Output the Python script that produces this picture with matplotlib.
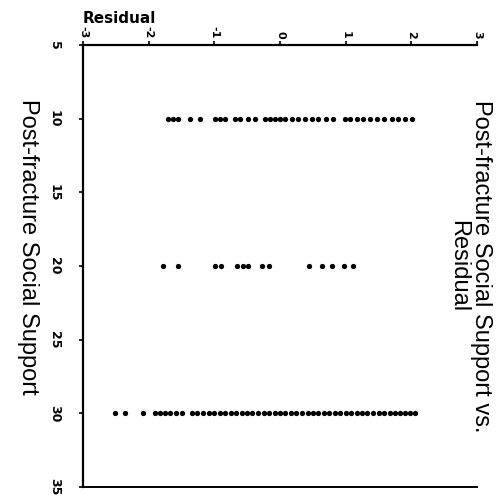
import matplotlib
matplotlib.use("Agg")
import matplotlib.pyplot as plt

# Data: residuals at each level of post-fracture social support
support_levels = [10, 20, 30]
resid_10 = [-1.71, -1.63, -1.55, -1.37, -1.22, -0.99, -0.91, -0.84, -0.69, -0.61,
            -0.49, -0.38, -0.23, -0.15, -0.08, 0.00, 0.08, 0.18, 0.27, 0.38,
            0.49, 0.58, 0.70, 0.81, 0.99, 1.07, 1.17, 1.26, 1.37, 1.48,
            1.58, 1.71, 1.80, 1.90, 2.01]
resid_20 = [-1.78, -1.55, -0.99, -0.90, -0.65, -0.57, -0.49, -0.27, -0.17,
            0.44, 0.64, 0.79, 0.97, 1.11]
resid_30 = [-2.51, -2.36, -2.09, -1.90, -1.83, -1.75, -1.68, -1.58, -1.49,
            -1.34, -1.26, -1.17, -1.08, -1.00, -0.92, -0.83, -0.75, -0.67,
            -0.58, -0.50, -0.42, -0.33, -0.25, -0.17, -0.08, 0.00, 0.08,
            0.17, 0.25, 0.33, 0.42, 0.50, 0.58, 0.67, 0.75, 0.83, 0.92,
            1.00, 1.08, 1.17, 1.25, 1.33, 1.42, 1.50, 1.58, 1.67, 1.75,
            1.83, 1.90, 1.98, 2.06]
residuals = [resid_10, resid_20, resid_30]

x_ticks = [-3, -2, -1, 0, 1, 2, 3]
y_ticks = [5, 10, 15, 20, 25, 30, 35]

fig = plt.figure(figsize=(5.01, 5.04), dpi=100)
ax = fig.add_axes([83 / 501, 1 - 487 / 504, (477 - 83) / 501, (487 - 45) / 504])

for level, vals in zip(support_levels, residuals):
    ax.plot(vals, [level] * len(vals), linestyle="none", marker="o",
            markersize=3.8, color="black", markeredgewidth=0)

ax.set_xlim(-3, 3)
ax.set_ylim(35, 5)
ax.xaxis.tick_top()
ax.set_xticks(x_ticks)
ax.set_yticks(y_ticks)

bold_font = ["DejaVu Sans"]
ax.set_xticklabels([str(v) for v in x_ticks], rotation=-90, fontsize=8,
                   fontweight="bold", family=bold_font, va="bottom", ha="center")
ax.set_yticklabels([str(v) for v in y_ticks], rotation=-90, fontsize=9,
                   fontweight="bold", family=bold_font, va="center", ha="right")
ax.tick_params(axis="x", length=3, width=1.2, pad=1.5)
ax.tick_params(axis="y", length=3, width=1.2, pad=13)

ax.spines["right"].set_visible(False)
ax.spines["top"].set_linewidth(1.6)
ax.spines["left"].set_linewidth(1.6)
ax.spines["bottom"].set_linewidth(1.4)

fig.text(83 / 501, 1 - 23 / 504, "Residual", ha="left", va="baseline",
         fontsize=11, fontweight="bold", family=bold_font)

arial = ["Liberation Sans", "DejaVu Sans"]
fig.text(28 / 501, 1 - 247 / 504, "Post-fracture Social Support", rotation=-90,
         ha="center", va="center", fontsize=17, family=arial)
fig.text(470 / 501, 1 - 266 / 504, "Post-fracture Social Support vs.\nResidual",
         rotation=-90, ha="center", va="center", multialignment="center",
         fontsize=17, family=arial, linespacing=1.05)

fig.savefig("out.png", dpi=100, facecolor="white")
